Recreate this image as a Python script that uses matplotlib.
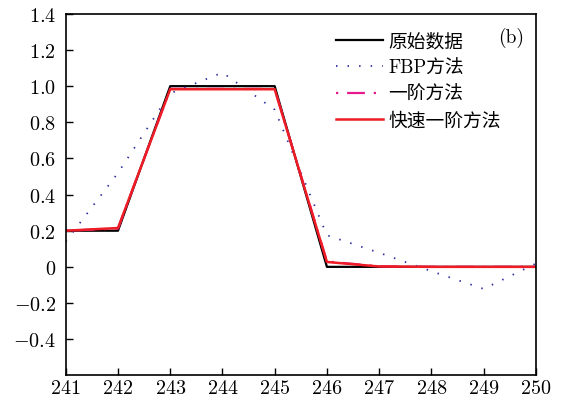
import matplotlib
matplotlib.use("Agg")
import matplotlib.pyplot as plt
from matplotlib.ticker import FuncFormatter
import numpy as np

plt.rcParams['font.family'] = ['cmr10', 'Noto Sans CJK SC']
plt.rcParams['mathtext.fontset'] = 'cm'
plt.rcParams['axes.unicode_minus'] = False

# sample positions and reconstructed profiles
x = np.arange(241, 251)
original = [0.2, 0.2, 1.0, 1.0, 1.0, 0.0, 0.0, 0.0, 0.0, 0.0]
fbp = [0.14, 0.52, 0.96, 1.075, 0.87, 0.175, 0.078, -0.024, -0.122, 0.018]
first_order = [0.2, 0.212, 0.985, 0.985, 0.985, 0.03, 0.003, 0.0, 0.0, 0.0]
fast_first_order = [0.2, 0.215, 0.983, 0.983, 0.983, 0.027, 0.002, 0.0, 0.0, 0.0]

labels = ['原始数据', 'FBP方法', '一阶方法', '快速一阶方法']
xticks = list(range(241, 251))
yticks = [-0.4, -0.2, 0, 0.2, 0.4, 0.6, 0.8, 1.0, 1.2, 1.4]

fig = plt.figure(figsize=(5.67, 4.02), dpi=100)
ax = fig.add_axes([0.116, 0.064, 0.829, 0.899])

ax.plot(x, original, color='black', lw=1.6, label=labels[0])
ax.plot(x, fbp, color='#2b2b9c', lw=1.3, linestyle=(0, (0.8, 5.6)), label=labels[1])
ax.plot(x, first_order, color='#e8198b', lw=1.6, linestyle=(0, (1, 4, 8, 4)), label=labels[2])
ax.plot(x, fast_first_order, color='#ee1c25', lw=1.8, label=labels[3])

ax.set_xlim(241, 250)
ax.set_ylim(-0.6, 1.4)
ax.set_xticks(xticks)
ax.set_yticks(yticks)


def fmt_y(v, pos):
    if abs(v) < 1e-9:
        return '$0$'
    return '$%.1f$' % v


ax.yaxis.set_major_formatter(FuncFormatter(fmt_y))
ax.xaxis.set_major_formatter(FuncFormatter(lambda v, pos: '$%d$' % v))
ax.tick_params(direction='in', length=5, width=1.0, labelsize=14.5)
ax.tick_params(axis='y', pad=7)
ax.tick_params(axis='x', pad=3)
for s in ax.spines.values():
    s.set_linewidth(1.2)

ax.legend(loc='upper left', bbox_to_anchor=(0.575, 0.948), frameon=False,
          fontsize=13.5, handlelength=2.5, handletextpad=0.27, labelspacing=0.45,
          borderpad=0, borderaxespad=0)
ax.text(0.975, 0.965, '(b)', transform=ax.transAxes, ha='right', va='top',
        fontsize=14)

fig.savefig('out.png', dpi=100)
